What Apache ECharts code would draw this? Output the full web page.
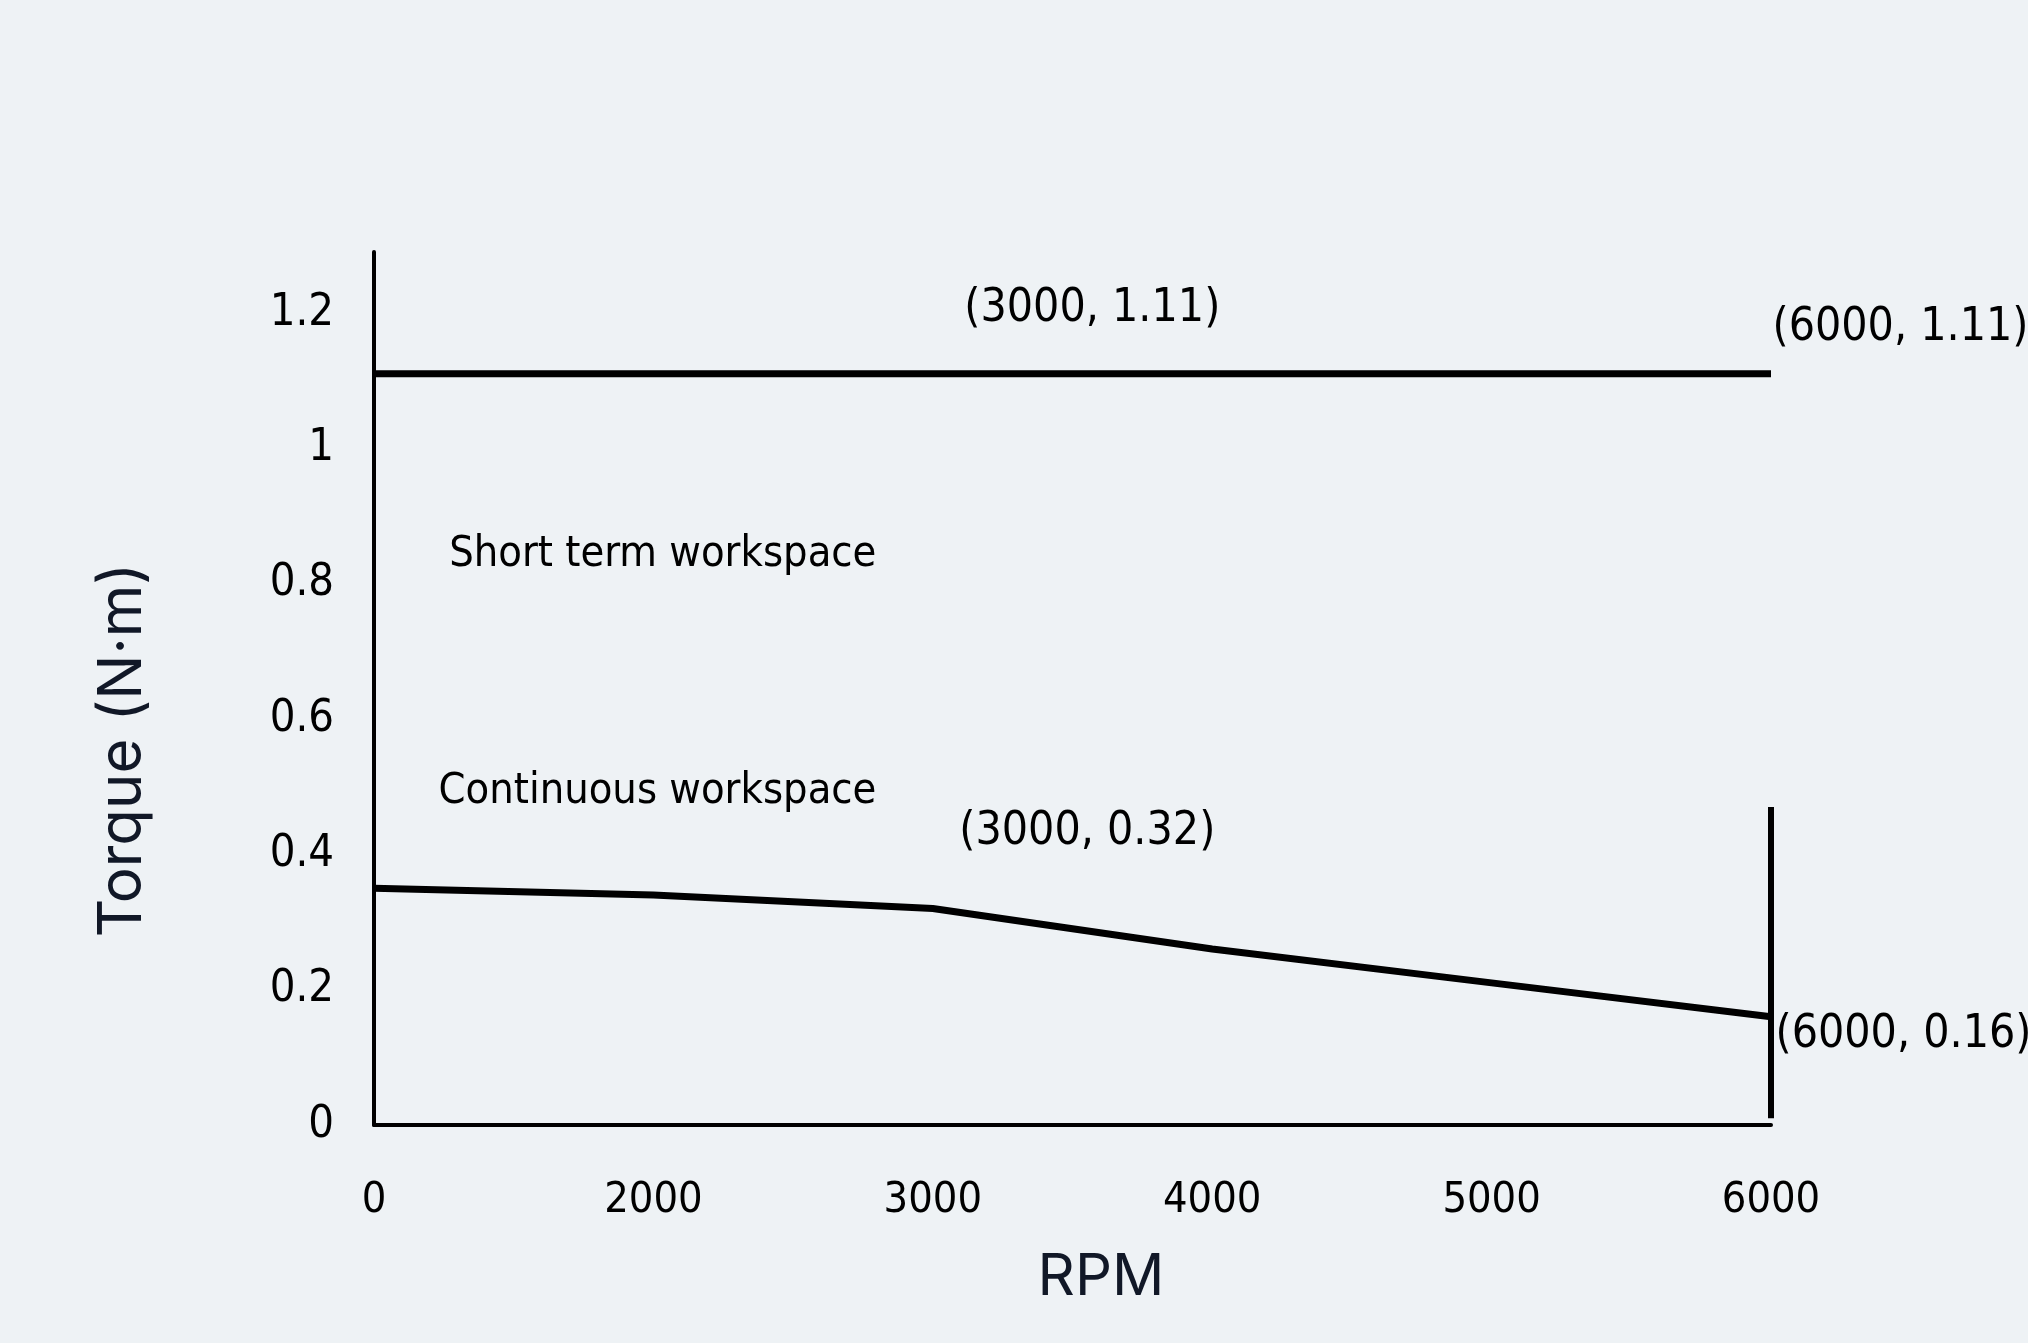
<!DOCTYPE html>
<html>
<head>
<meta charset="utf-8">
<title>Torque vs RPM</title>
<script src="https://cdn.jsdelivr.net/npm/echarts@6/dist/echarts.min.js"></script>
<style>
  html, body { margin: 0; padding: 0; background: #eef2f5; }
  #chart { width: 2028px; height: 1343px; }
</style>
</head>
<body>
<div id="chart"></div>
<script>
// x positions are evenly spaced categories, not a linear rpm scale
const rpmLabels = ['0', '2000', '3000', '4000', '5000', '6000']
const peakTorque = [1.11, 1.11, 1.11, 1.11, 1.11, 1.11]
const ratedTorque = [0.35, 0.34, 0.32, 0.26, 0.21, 0.16]
const limitTorque = [0.47, 0.01]   // vertical cut-off at 6000 rpm
const yTicks = [0, 0.2, 0.4, 0.6, 0.8, 1, 1.2]
const regionNames = ['Short term workspace', 'Continuous workspace']
const regionTorque = [0.843, 0.492]

const tickFont = '"DejaVu Sans Condensed", "Liberation Sans Narrow", sans-serif'
const titleFont = 'Inter, Roboto, "Noto Sans", sans-serif'

const chart = echarts.init(document.getElementById('chart'))

const lastIdx = rpmLabels.length - 1
const noteText = (i, v) => `(${rpmLabels[i]}, ${v})`

// point notes: [index, value, dx, dy]
const notes = [
  [2, peakTorque[2], 31, -65],
  [lastIdx, peakTorque[lastIdx], 1, -46],
  [2, ratedTorque[2], 26, -76],
  [lastIdx, ratedTorque[lastIdx], 4, 18]
]

const option = {
  backgroundColor: '#eef2f5',
  animation: false,
  grid: {
    left: 374,
    right: 257,
    top: 252,
    bottom: 218
  },
  xAxis: {
    type: 'value',
    min: 0,
    max: lastIdx,
    interval: 1,
    axisLine: { show: true, lineStyle: { color: '#000', width: 4 } },
    axisTick: { show: false },
    splitLine: { show: false },
    axisLabel: {
      margin: 54,
      fontFamily: tickFont,
      fontSize: 43,
      color: '#000',
      formatter: v => rpmLabels[v] || ''
    }
  },
  yAxis: {
    type: 'value',
    min: 0,
    max: 1.29,
    interval: 0.2,
    axisLine: { show: true, lineStyle: { color: '#000', width: 4 } },
    axisTick: { show: false },
    splitLine: { show: false },
    axisLabel: {
      margin: 40,
      fontFamily: tickFont,
      fontSize: 45,
      color: '#000',
      formatter: v => {
        const hit = yTicks.find(t => Math.abs(t - v) < 1e-6)
        return hit === undefined ? '' : String(hit)
      }
    }
  },
  series: [
    {
      name: 'Peak torque',
      type: 'line',
      data: peakTorque.map((v, i) => [i, v]),
      symbol: 'none',
      lineStyle: { color: '#000', width: 7 }
    },
    {
      name: 'Rated torque',
      type: 'line',
      data: ratedTorque.map((v, i) => [i, v]),
      symbol: 'none',
      lineStyle: { color: '#000', width: 7 }
    },
    {
      name: 'Speed limit',
      type: 'line',
      data: limitTorque.map(v => [lastIdx, v]),
      symbol: 'none',
      lineStyle: { color: '#000', width: 6 }
    },
    {
      name: 'Notes',
      type: 'scatter',
      symbolSize: 1,
      itemStyle: { color: 'rgba(0,0,0,0)', opacity: 1 },
      data: notes.map(n => ({
        value: [n[0], n[1]],
        label: {
          show: true,
          position: 'right',
          distance: 0,
          offset: [n[2], n[3]],
          formatter: noteText(n[0], n[1]),
          fontFamily: tickFont,
          fontSize: 46,
          color: '#000'
        }
      }))
    },
    {
      name: 'Regions',
      type: 'scatter',
      symbolSize: 1,
      itemStyle: { color: 'rgba(0,0,0,0)', opacity: 1 },
      data: regionNames.map((name, i) => ({
        value: [1.8, regionTorque[i]],
        label: {
          show: true,
          position: 'left',
          distance: 0,
          formatter: name,
          fontFamily: tickFont,
          fontSize: 43,
          color: '#000'
        }
      }))
    }
  ],
  graphic: [
    {
      type: 'text',
      x: 123,
      y: 750,
      rotation: Math.PI / 2,
      style: {
        text: 'Torque (N·m)',
        font: '60px ' + titleFont,
        fill: '#111827',
        align: 'center',
        verticalAlign: 'middle'
      }
    },
    {
      type: 'text',
      x: 1101,
      y: 1278,
      style: {
        text: 'RPM',
        font: '58px ' + titleFont,
        fill: '#111827',
        align: 'center',
        verticalAlign: 'middle'
      }
    }
  ]
}

chart.setOption(option)
</script>
</body>
</html>
